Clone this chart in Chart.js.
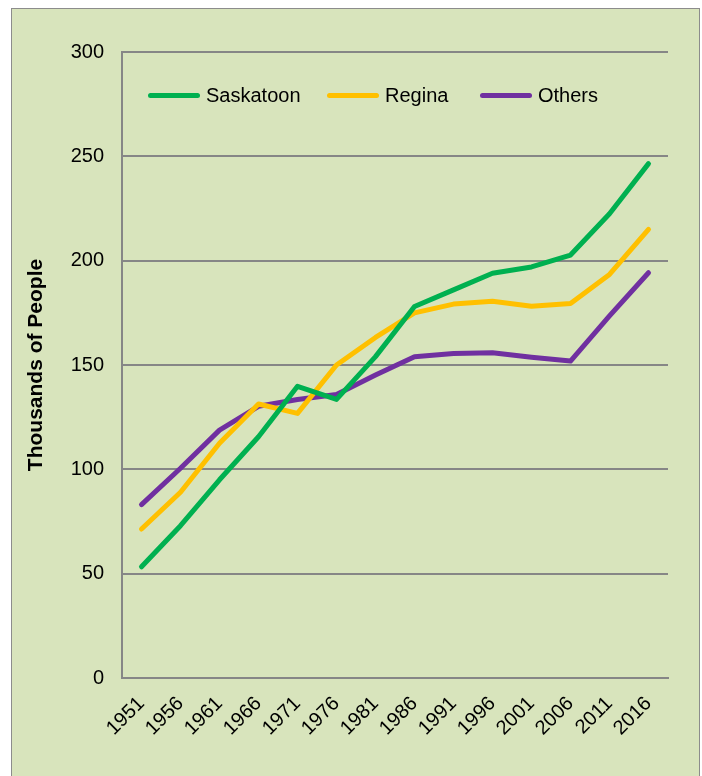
<!DOCTYPE html>
<html lang="en">
<head>
    <meta charset="UTF-8">
    <title>Population Growth</title>
    <script src="https://cdn.jsdelivr.net/npm/chart.js"></script>
    <style>
        body {
            margin: 0;
            background: #ffffff;
            font-family: "Liberation Sans", Arial, sans-serif;
        }

        .chart_wrapper {
            position: relative;
            width: 702px;
            height: 776px;
            overflow: hidden;
        }

        .frame {
            position: absolute;
            left: 11px;
            top: 8px;
            width: 687px;
            height: 800px;
            border: 1px solid #8c8c8c;
            background: #d8e4bc;
        }

        .chart-container-el {
            position: absolute;
            left: 0;
            top: 0;
            width: 702px;
            height: 776px;
        }

        .legend {
            position: absolute;
            left: 148px;
            top: 84px;
            margin: 0;
            padding: 0;
            list-style: none;
            display: grid;
            grid-template-columns: 179px 153px auto;
        }

        .legend-item {
            display: flex;
            align-items: center;
            font-size: 20px;
            color: #000;
        }

        .legend-color-box {
            width: 52px;
            height: 5px;
            border-radius: 3px;
            margin-right: 6px;
        }
    </style>
</head>
<body>

    <section class="chart_wrapper">
        <div class="frame"></div>
        <div class="chart-container-el">
            <canvas id="myChart" width="702" height="776"></canvas>
        </div>
        <ul class="legend" id="legend"></ul>
    </section>

<script>
    const years = ['1951', '1956', '1961', '1966', '1971', '1976', '1981', '1986', '1991', '1996', '2001', '2006', '2011', '2016'];
    const saskatoon = [53.3, 73, 95, 115.6, 139.8, 133.5, 154, 178, 186, 194, 197, 202.7, 222.5, 246.5];
    const regina = [71.4, 89, 112.5, 131.3, 126.8, 150, 163.2, 175, 179.2, 180.6, 178.2, 179.5, 193.4, 215];
    const others = [83.1, 100.5, 118.8, 130.2, 133.5, 135.9, 145.2, 154, 155.5, 155.9, 153.7, 151.9, 173.5, 194.2];

    const seriesNames = ['Saskatoon', 'Regina', 'Others'];
    const seriesColors = ['#00b050', '#ffc000', '#7030a0'];
    const seriesValues = [saskatoon, regina, others];

    const yTicks = [0, 50, 100, 150, 200, 250, 300];

    const gridColor = '#868686';
    const fontFamily = '"Liberation Sans", Arial, sans-serif';

    const ctx = document.getElementById('myChart').getContext('2d');

    new Chart(ctx, {
        type: 'line',
        data: {
            labels: years,
            datasets: seriesNames.map((name, i) => ({
                label: name,
                data: seriesValues[i],
                borderColor: seriesColors[i],
                backgroundColor: seriesColors[i],
                borderWidth: 5,
                borderCapStyle: 'round',
                borderJoinStyle: 'round',
                pointRadius: 0,
                tension: 0
            }))
        },
        options: {
            responsive: false,
            animation: false,
            layout: {
                padding: { left: 20, right: 34, top: 52, bottom: 38 }
            },
            plugins: {
                legend: { display: false },
                tooltip: { enabled: false }
            },
            scales: {
                x: {
                    offset: true,
                    grid: { display: false, drawTicks: false },
                    border: { display: true, color: gridColor, width: 2 },
                    ticks: {
                        color: '#000',
                        font: { family: fontFamily, size: 20 },
                        maxRotation: 45,
                        minRotation: 45,
                        padding: 14,
                        autoSkip: false
                    },
                    afterFit(axis) { axis.height = 60; }
                },
                y: {
                    min: 0,
                    max: 300,
                    afterBuildTicks(axis) {
                        axis.ticks = yTicks.map(v => ({ value: v }));
                    },
                    grid: { color: gridColor, lineWidth: 2, drawTicks: false },
                    border: { display: true, color: gridColor, width: 2 },
                    ticks: {
                        color: '#000',
                        font: { family: fontFamily, size: 20 },
                        padding: 18
                    },
                    title: {
                        display: true,
                        text: 'Thousands of People',
                        color: '#000',
                        font: { family: fontFamily, size: 21, weight: 'bold' },
                        padding: { top: 4, bottom: 0 }
                    },
                    afterFit(axis) { axis.width = 102; }
                }
            }
        }
    });

    // build the legend like the one in the plot
    function createLegend() {
        const legendContainer = document.getElementById('legend');

        seriesNames.forEach((name, index) => {
            const listItem = document.createElement('li');
            listItem.classList.add('legend-item');

            const colorBox = document.createElement('div');
            colorBox.classList.add('legend-color-box');
            colorBox.style.backgroundColor = seriesColors[index];

            const legendText = document.createElement('span');
            legendText.textContent = name;

            listItem.appendChild(colorBox);
            listItem.appendChild(legendText);
            legendContainer.appendChild(listItem);
        });
    }

    createLegend();
</script>

</body>
</html>
